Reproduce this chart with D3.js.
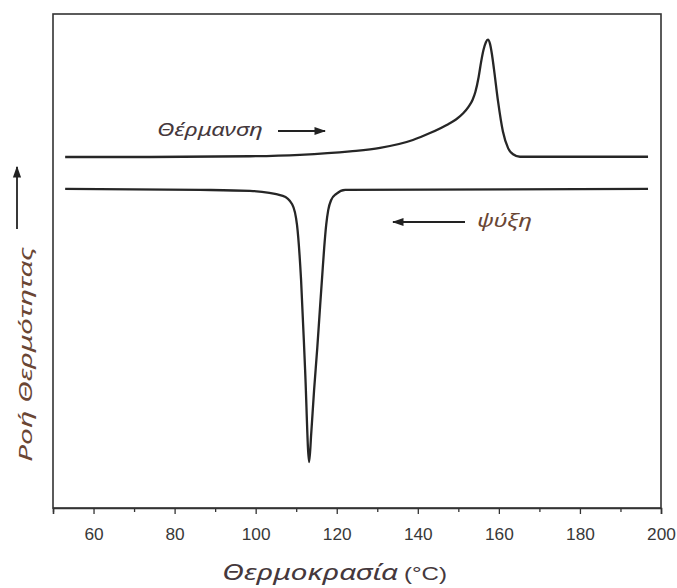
<!DOCTYPE html>
<html>
<head>
<meta charset="utf-8">
<script src="https://cdn.jsdelivr.net/npm/d3@7"></script>
<style>
  html, body { margin: 0; padding: 0; background: #fff; }
  svg { display: block; }
</style>
</head>
<body>
<svg id="chart" width="677" height="588"></svg>
<script>
// ---- data ----
const heatingTemp = [53, 73.9, 98.6, 110.9, 123.3, 130.7, 138.8, 143.0, 147.5, 149.5, 151.2, 152.5, 153.5, 154.2, 155.0, 155.6, 156.2, 156.8, 157.3, 157.8, 158.3, 158.8, 159.8, 161.0, 162.3, 163.5, 165.2, 196.8];
const heatingFlow = [71.05, 71.05, 71.2, 71.5, 72.2, 72.9, 74.5, 75.9, 77.7, 78.7, 79.9, 81.2, 82.6, 84.2, 87.2, 90.2, 92.7, 94.3, 94.8, 94.0, 91.8, 88.8, 82.3, 76.2, 72.8, 71.6, 71.1, 71.1];
const coolingTemp = [53, 86.3, 98.6, 106.7, 109.0, 110.2, 111.2, 112.2, 113.2, 113.7, 114.4, 115.2, 115.9, 116.4, 116.9, 117.4, 117.9, 118.6, 119.9, 122.1, 196.8];
const coolingFlow = [64.6, 64.4, 64.2, 63.2, 61.5, 57.3, 46.2, 27.9, 9.3, 15.0, 23.7, 32.4, 40.9, 46.8, 52.6, 57.3, 60.3, 62.3, 63.6, 64.4, 64.6];
const majorTicks = [60, 80, 100, 120, 140, 160, 180, 200];
const minorTicks = [50, 70, 90, 110, 130, 150, 170, 190];
const xTitle = "Θερμοκρασία";
const xUnit = "(°C)";
const yTitle = "Ροή Θερμότητας";
const heatLabel = "Θέρμανση";
const coolLabel = "ψύξη";

// ---- layout ----
const svg = d3.select("#chart");
const L = 53, R = 661, T = 14, B = 508;
const x = d3.scaleLinear().domain([50, 200]).range([L, R]);
const y = d3.scaleLinear().domain([0, 100]).range([B, T]);
const textColor = "#45383c";
const yTitleColor = "#6a4634";

const defs = svg.append("defs");
defs.append("marker").attr("id", "arr")
  .attr("viewBox", "0 0 10 10").attr("refX", 9).attr("refY", 5)
  .attr("markerWidth", 6.5).attr("markerHeight", 6.5).attr("orient", "auto")
  .append("path").attr("d", "M0,1.5 L10,5 L0,8.5 Z").attr("fill", "#222");

// frame
svg.append("rect").attr("x", L).attr("y", T).attr("width", R - L).attr("height", B - T)
  .attr("fill", "none").attr("stroke", "#333").attr("stroke-width", 1.6);

// bottom axis
const gx = svg.append("g").attr("transform", `translate(0,${B})`)
  .call(d3.axisBottom(x).tickValues(majorTicks).tickSize(6).tickPadding(11).tickFormat(d3.format("d")));
gx.select(".domain").attr("stroke", "#333").attr("stroke-width", 1.6);
gx.selectAll(".tick line").attr("stroke", "#333").attr("stroke-width", 1.3);
gx.selectAll(".tick text").attr("font-family", "Liberation Sans, Arial, sans-serif")
  .attr("font-size", 16).attr("fill", "#383838").attr("dy", "0.95em")
  .attr("textLength", d => String(d).length * 9.6).attr("lengthAdjust", "spacingAndGlyphs");
const gxm = svg.append("g").attr("transform", `translate(0,${B})`)
  .call(d3.axisBottom(x).tickValues(minorTicks).tickSize(4).tickFormat(""));
gxm.select(".domain").remove();
gxm.selectAll(".tick line").attr("stroke", "#333").attr("stroke-width", 1.3);

// curves
const line = d3.line().x(d => x(d[0])).y(d => y(d[1])).curve(d3.curveMonotoneX);
const heat = heatingTemp.map((t, i) => [t, heatingFlow[i]]);
const cool = coolingTemp.map((t, i) => [t, coolingFlow[i]]);
[heat, cool].forEach(data => {
  svg.append("path").datum(data).attr("d", line)
    .attr("fill", "none").attr("stroke", "#262626").attr("stroke-width", 2.3)
    .attr("stroke-linejoin", "round");
});

// annotations
const fontItal = "'Noto Sans', 'Open Sans', sans-serif";
svg.append("text").attr("x", 157).attr("y", 136).text(heatLabel)
  .attr("font-family", fontItal).attr("font-style", "italic").attr("font-size", 18)
  .attr("fill", textColor).attr("textLength", 106).attr("lengthAdjust", "spacingAndGlyphs");
svg.append("line").attr("x1", 278).attr("x2", 325).attr("y1", 131).attr("y2", 131)
  .attr("stroke", "#222").attr("stroke-width", 1.8).attr("marker-end", "url(#arr)");

svg.append("line").attr("x1", 465).attr("x2", 393).attr("y1", 222).attr("y2", 222)
  .attr("stroke", "#222").attr("stroke-width", 1.8).attr("marker-end", "url(#arr)");
svg.append("text").attr("x", 477).attr("y", 227).text(coolLabel)
  .attr("font-family", fontItal).attr("font-style", "italic").attr("font-size", 18)
  .attr("fill", yTitleColor).attr("textLength", 55).attr("lengthAdjust", "spacingAndGlyphs");

// y title with arrow
svg.append("text").attr("transform", "translate(32,462) rotate(-90)").text(yTitle)
  .attr("font-family", fontItal).attr("font-style", "italic").attr("font-size", 19)
  .attr("fill", yTitleColor).attr("textLength", 215).attr("lengthAdjust", "spacingAndGlyphs");
svg.append("line").attr("x1", 17).attr("x2", 17).attr("y1", 229).attr("y2", 167)
  .attr("stroke", "#222").attr("stroke-width", 1.8).attr("marker-end", "url(#arr)");

// x title
const xt = svg.append("text").attr("y", 580).attr("fill", textColor);
xt.append("tspan").attr("x", 222).text(xTitle)
  .attr("font-family", fontItal).attr("font-style", "italic").attr("font-size", 21)
  .attr("textLength", 176).attr("lengthAdjust", "spacingAndGlyphs");
xt.append("tspan").attr("x", 404).text(xUnit)
  .attr("font-family", "Liberation Sans, Arial, sans-serif").attr("font-size", 19)
  .attr("textLength", 43).attr("lengthAdjust", "spacingAndGlyphs");
</script>
</body>
</html>
